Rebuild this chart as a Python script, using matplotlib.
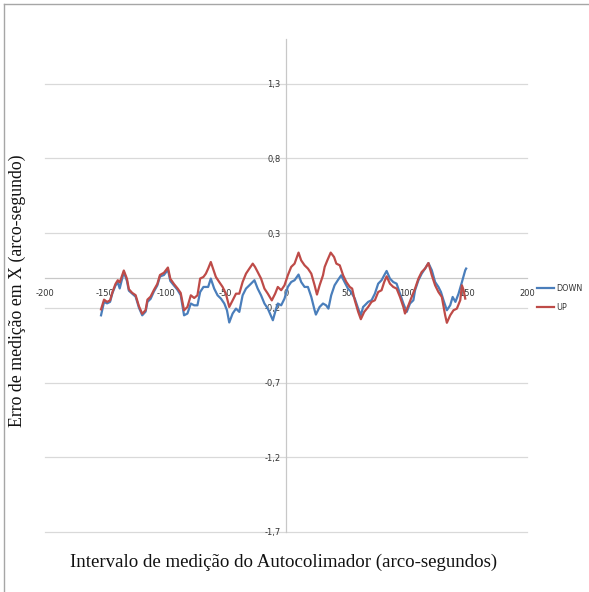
import matplotlib
matplotlib.use("Agg")
import matplotlib.pyplot as plt
from matplotlib.ticker import FuncFormatter, MultipleLocator
from matplotlib.lines import Line2D

# data (arc-seconds vs error)
x_down = [-153.5, -151, -148.5, -146, -144, -141.5, -139.6, -138, -134.6, -132, -130.4, -127.6,
          -124.8, -122, -119.3, -116.5, -115, -112.4, -109.6, -106.8, -104.6, -101.3, -98, -96,
          -93, -90, -87.4, -84.6, -81.8, -79, -76.2, -73.5, -71.25, -68.5, -64.6, -62.4, -59.6,
          -56.8, -54, -51.2, -49, -47.1, -44.3, -41.5, -38.75, -36, -33.2, -30.4, -26.2, -23.5,
          -20.7, -17.9, -15.1, -10.9, -8.2, -6.8, -4, -1.25, 1.5, 4.3, 7.1, 10.4, 12.6, 15.4,
          18.2, 21, 23.75, 24.8, 27.9, 30.7, 33.3, 35.2, 37.5, 40.3, 43, 45.8, 48.6, 51.4, 53.6,
          57.1, 59.9, 62.1, 64, 65.4, 68.2, 71, 73.75, 76.5, 79.3, 81.5, 83.5, 86.25, 89, 91.8,
          94.6, 97.4, 100.2, 102.9, 105.7, 107.1, 109.9, 112.6, 115.4, 118.2, 121, 123.75, 126.5,
          128.6, 130.7, 133.5, 136.25, 138.3, 140.6, 143.2, 146, 148.75, 149.5]
down = [-0.25, -0.16, -0.17, -0.16, -0.10, -0.05, -0.03, -0.07, 0.04, -0.02, -0.085, -0.105,
        -0.125, -0.20, -0.25, -0.225, -0.16, -0.14, -0.09, -0.05, 0.01, 0.02, 0.055, -0.02,
        -0.05, -0.08, -0.115, -0.25, -0.238, -0.171, -0.183, -0.183, -0.094, -0.06, -0.06,
        -0.004, -0.071, -0.116, -0.138, -0.171, -0.216, -0.298, -0.238, -0.205, -0.227, -0.116,
        -0.071, -0.049, -0.015, -0.071, -0.116, -0.171, -0.205, -0.283, -0.205, -0.171, -0.183,
        -0.138, -0.06, -0.027, -0.015, 0.023, -0.027, -0.06, -0.06, -0.127, -0.216, -0.245,
        -0.194, -0.171, -0.183, -0.205, -0.116, -0.049, -0.015, 0.018, -0.027, -0.071, -0.089,
        -0.138, -0.205, -0.25, -0.194, -0.183, -0.16, -0.149, -0.105, -0.038, -0.015, 0.018,
        0.047, -0.004, -0.027, -0.038, -0.105, -0.171, -0.227, -0.171, -0.149, -0.082, -0.015,
        0.029, 0.063, 0.1, 0.052, -0.027, -0.06, -0.094, -0.149, -0.216, -0.183, -0.127, -0.16,
        -0.105, -0.027, 0.052, 0.063]

x_up = [-153.5, -151, -148.5, -146, -144, -141.5, -139.6, -138, -134.6, -132, -130.4, -127.6,
        -124.8, -122, -119.3, -116.5, -115, -112.4, -109.6, -106.8, -104.6, -101.3, -98, -96,
        -93, -90, -87.4, -84.6, -81.8, -79, -76.2, -73.5, -71.25, -68.5, -66.5, -64.6, -62.4,
        -60.1, -58.2, -55.4, -52.6, -49.9, -47.1, -44.3, -41.5, -38.75, -36, -33.2, -30.4,
        -27.6, -25.7, -23.5, -20.7, -17.9, -15.1, -11.8, -9, -6.8, -4, -1.25, 1.5, 4.3, 7.1,
        10.4, 12.6, 15.4, 18.2, 21, 23.75, 25.7, 27.9, 30.7, 32.1, 34.3, 37.1, 39.9, 41.8, 44.6,
        47.4, 50.1, 52.9, 54.9, 57.1, 59.9, 62.1, 64.9, 68.2, 71, 73.75, 76.5, 79.3, 81.5, 83.5,
        86.25, 89, 91.8, 94.6, 97.4, 98.75, 101.6, 104.3, 107.1, 109.9, 112.6, 115.4, 118.2, 121,
        123.75, 126.5, 129.3, 132.1, 133.5, 136.25, 139, 141.8, 144.6, 146, 147.4, 148.75]
up = [-0.21, -0.145, -0.16, -0.15, -0.094, -0.04, -0.015, -0.03, 0.05, -0.005, -0.075, -0.1,
      -0.115, -0.19, -0.24, -0.215, -0.145, -0.125, -0.08, -0.04, 0.02, 0.035, 0.07, -0.005,
      -0.04, -0.07, -0.1, -0.216, -0.194, -0.116, -0.134, -0.116, -0.004, 0.007, 0.029, 0.063,
      0.107, 0.052, 0.007, -0.027, -0.06, -0.105, -0.194, -0.15, -0.105, -0.105, -0.027, 0.029,
      0.063, 0.096, 0.074, 0.04, -0.004, -0.071, -0.105, -0.15, -0.105, -0.06, -0.082, -0.049,
      0.018, 0.074, 0.096, 0.17, 0.118, 0.085, 0.063, 0.029, -0.049, -0.111, -0.049, 0.018,
      0.074, 0.118, 0.17, 0.14, 0.096, 0.085, 0.018, -0.027, -0.06, -0.071, -0.15, -0.227,
      -0.276, -0.227, -0.194, -0.16, -0.149, -0.094, -0.082, -0.027, 0.011, -0.038, -0.06,
      -0.071, -0.127, -0.194, -0.238, -0.183, -0.127, -0.071, -0.004, 0.04, 0.063, 0.1, 0.018,
      -0.049, -0.094, -0.127, -0.25, -0.3, -0.25, -0.216, -0.205, -0.149, -0.049, -0.082, -0.138]

plt.rcParams["font.family"] = ["DejaVu Sans"]

fig = plt.figure(figsize=(5.89, 5.92), dpi=100)
ax = fig.add_axes([45/589, 1 - 531.9/592, 482/589, (531.9 - 39)/592])

ax.plot(x_down, down, color="#4A7EBB", lw=1.6, label="DOWN", zorder=3)
ax.plot(x_up, up, color="#BE4B48", lw=1.6, label="UP", zorder=4)

ax.set_xlim(-200, 200)
ax.set_ylim(-1.7, 1.6)
ax.xaxis.set_major_locator(MultipleLocator(50))
ax.set_yticks([-1.7, -1.2, -0.7, -0.2, 0.3, 0.8, 1.3])
ax.yaxis.grid(True, color="#d9d9d9", lw=0.9, zorder=0, clip_on=False)
ax.set_axisbelow(True)

fmt = FuncFormatter(lambda v, p: ("%g" % round(v, 2)).replace(".", ","))
ax.xaxis.set_major_formatter(fmt)
ax.yaxis.set_major_formatter(fmt)

for s in ["top", "right"]:
    ax.spines[s].set_visible(False)
ax.spines["left"].set_position(("data", 0))
ax.spines["bottom"].set_position(("data", 0))
for s in ["left", "bottom"]:
    ax.spines[s].set_color("#c8c8c8")
    ax.spines[s].set_linewidth(0.9)
ax.tick_params(axis="both", length=0, labelsize=6, colors="#333333")
ax.tick_params(axis="x", pad=8)
ax.tick_params(axis="y", pad=4)

fig.text(0.029, 1 - 291/592, "Erro de medição em X (arco-segundo)", rotation=90, ha="center",
         va="center", family="Liberation Serif", fontsize=12.8, color="#111111")
fig.text(284/589, 1 - 562/592, "Intervalo de medição do Autocolimador (arco-segundos)",
         ha="center", va="center", family="Liberation Serif", fontsize=13.6, color="#111111")

fig.legend(loc="center left", bbox_to_anchor=(537/589, 1 - 298/592), frameon=False,
           fontsize=5.8, handlelength=2.1, labelspacing=1.3, handletextpad=0.35,
           borderpad=0, borderaxespad=0, labelcolor="#333333")

# grey frame of the chart area (left and top edges visible)
fig.add_artist(Line2D([4/589, 4/589], [0, 1 - 4/592], color="#a6a6a6", lw=1,
                      transform=fig.transFigure))
fig.add_artist(Line2D([4/589, 1], [1 - 4/592, 1 - 4/592], color="#a6a6a6", lw=1,
                      transform=fig.transFigure))

fig.savefig("out.png", dpi=100)
